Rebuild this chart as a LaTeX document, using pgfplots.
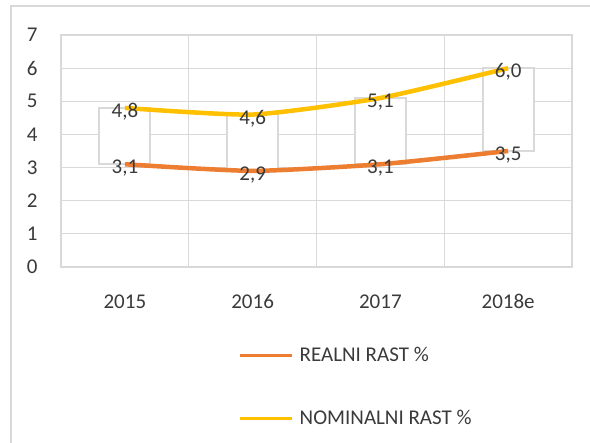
\documentclass[border=0pt]{standalone}
\usepackage{pgfplots}
\pgfplotsset{compat=1.18}
\usepackage{pgfplotstable}
\usepackage{fontspec}
\setmainfont{Carlito}
\definecolor{realc}{HTML}{ED7D31}
\definecolor{nomc}{HTML}{FFC000}
\definecolor{gridc}{HTML}{D9D9D9}
\definecolor{txtc}{HTML}{3A3A3A}

\pgfplotstableread{
x real nom
0 3.1 4.8
1 2.9 4.6
2 3.1 5.1
3 3.5 6.0
}\datatable

\begin{document}
\begin{tikzpicture}[x=1bp,y=1bp]
\useasboundingbox (0,0) rectangle (590,443);
\draw[gridc, line width=1.5bp] (11,0) -- (11,437) -- (590,437);
\pgfplotsset{myaxis/.style={scale only axis, width=511bp, height=232bp,
  at={(61bp,176bp)}, anchor=south west, xmin=-0.5, xmax=3.5, ymin=0, ymax=7}}

\begin{axis}[myaxis, ybar stacked, bar width=51bp,
  axis line style={gridc, line width=1.2bp},
  ytick={0,1,...,7}, xtick={0,1,2,3}, xticklabels={2015,2016,2017,2018e},
  minor xtick={-0.5,0.5,1.5,2.5,3.5},
  xminorgrids=true, ymajorgrids=true, xmajorgrids=false,
  grid style={gridc, line width=1.2bp},
  minor grid style={gridc, line width=1.2bp},
  major tick length=0pt, minor tick length=0pt,
  tick style={draw=none},
  ticklabel style={font=\fontsize{21bp}{25bp}\selectfont, text=txtc},
  /pgf/number format/assume math mode=true,
  yticklabel style={xshift=-20bp},
  xticklabel style={yshift=-24bp},
]
\addplot[draw=gridc, fill=none, draw opacity=0] table[x=x, y=real] \datatable;
\addplot[draw=gridc, line width=1.8bp, fill=white] table[x=x, y expr=\thisrow{nom}-\thisrow{real}] \datatable;
\end{axis}

\begin{axis}[myaxis, hide axis,
  /pgf/number format/.cd, fixed, fixed zerofill, precision=1, use comma, assume math mode=true,
  /pgfplots/.cd,
  every node near coord/.append style={font=\fontsize{21bp}{25bp}\selectfont, text=txtc, anchor=base, yshift=-9.5bp},
  legend image code/.code={\draw[#1, line width=3.5bp] (0bp,0bp) -- (52bp,0bp);},
  legend cell align=left,
  legend style={draw=none, fill=none, inner sep=0pt, nodes={inner sep=0pt, text=txtc},
    font=\fontsize{21bp}{25bp}\selectfont,
    at={(axis description cs:0.3464,-0.517)}, anchor=west,
    row sep=47bp, column sep=6bp},
]
\addplot[realc, line width=4.5bp, smooth, tension=0.35, nodes near coords] table[x=x, y=real] \datatable;
\addlegendentry{REALNI RAST \%}
\addplot[nomc, line width=4.5bp, smooth, tension=0.35, nodes near coords] table[x=x, y=nom] \datatable;
\addlegendentry{NOMINALNI RAST \%}
\end{axis}
\end{tikzpicture}
\end{document}
